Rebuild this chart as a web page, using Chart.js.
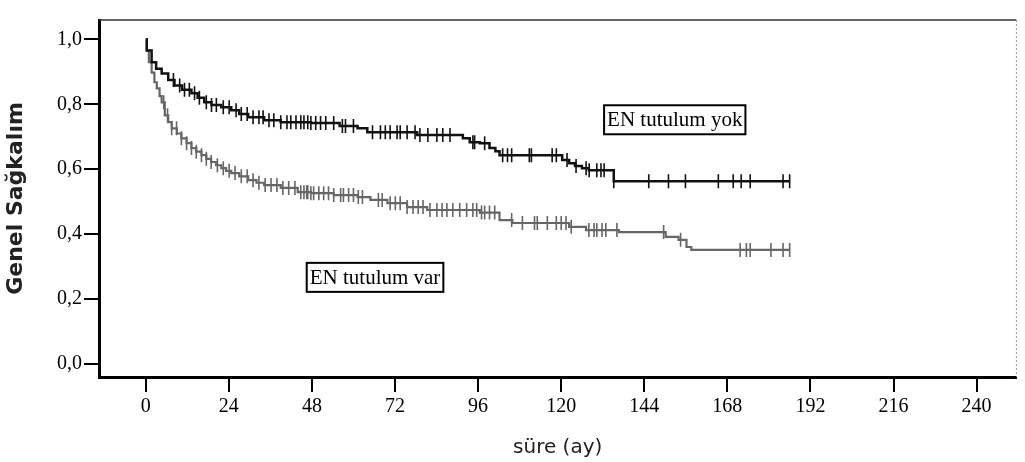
<!DOCTYPE html>
<html>
<head>
<meta charset="utf-8">
<script src="https://cdn.jsdelivr.net/npm/chart.js@4.4.0/dist/chart.umd.min.js"></script>
<style>
html, body { margin: 0; padding: 0; background: #fff; }
#wrap { width: 1025px; height: 462px; position: relative; }
</style>
</head>
<body>
<div id="wrap"><canvas id="kmChart"></canvas></div>
<script>
// Kaplan-Meier, EN tutulum yok (upper curve): step times (ay) and survival after the step
var yokTime = [0, 0.3, 1.7, 3, 4.6, 6.5, 8.3, 10.5, 13.2, 15, 16.9, 19, 21.8, 24.7, 27, 29.6, 34.2, 39, 47.7, 56, 61.2, 64, 78.4, 91.6, 93.6, 96.5, 99.3, 101, 102.2, 120.3, 122.3, 124, 126, 128, 135.2, 186];
var yokSurv = [1.0, 0.966, 0.93, 0.91, 0.895, 0.875, 0.858, 0.845, 0.834, 0.82, 0.806, 0.798, 0.791, 0.782, 0.77, 0.76, 0.751, 0.745, 0.742, 0.733, 0.726, 0.714, 0.705, 0.695, 0.683, 0.68, 0.665, 0.655, 0.643, 0.628, 0.618, 0.61, 0.603, 0.597, 0.563, 0.563];

// EN tutulum var (lower curve)
var varTime = [0, 0.3, 0.9, 1.7, 2.5, 3.2, 4, 4.6, 5.5, 6.5, 7.5, 9, 10.3, 11.8, 13.2, 14.6, 16.1, 17.5, 18.9, 20.3, 21.8, 23.2, 24.7, 27, 29.6, 32, 34.2, 39, 43.9, 47.7, 54.3, 61.2, 64.9, 69.8, 75.5, 81.3, 96.5, 102.2, 105.9, 122.3, 127.2, 136.7, 150.2, 153.9, 156.2, 157.6, 186];
var varSurv = [1.0, 0.966, 0.93, 0.898, 0.868, 0.849, 0.825, 0.806, 0.766, 0.745, 0.726, 0.71, 0.695, 0.68, 0.665, 0.654, 0.643, 0.632, 0.622, 0.612, 0.603, 0.595, 0.588, 0.578, 0.566, 0.558, 0.551, 0.542, 0.529, 0.526, 0.52, 0.514, 0.505, 0.495, 0.483, 0.474, 0.466, 0.443, 0.434, 0.422, 0.412, 0.406, 0.391, 0.382, 0.36, 0.351, 0.351];

// censored observations (ay)
var yokCensor = [8.0, 9.8, 11.2, 12.6, 14.1, 15.5, 17.5, 19.0, 20.4, 22.4, 24.1, 26.1, 27.6, 29.3, 31.0, 32.7, 33.9, 35.6, 37.0, 39.0, 40.8, 41.9, 43.4, 44.8, 45.7, 46.8, 47.7, 49.1, 50.5, 52.0, 54.3, 56.8, 57.7, 60.0, 65.5, 67.8, 69.2, 70.6, 72.6, 73.5, 75.5, 77.8, 79.2, 81.5, 84.1, 85.8, 87.9, 94.5, 95.0, 97.9, 103.1, 104.5, 105.7, 110.8, 111.4, 117.4, 118.6, 121.7, 124.3, 127.2, 128.1, 130.3, 131.5, 132.4, 135.2, 145.3, 151, 155.9, 165.4, 169.7, 172, 174.6, 184.1, 186];
var varCensor = [5.2, 6.3, 7.5, 8.9, 10.3, 11.8, 13.2, 14.6, 16.1, 17.5, 18.9, 20.7, 22.4, 24.1, 25.8, 27.6, 29.3, 31.0, 32.7, 34.5, 36.2, 37.9, 39.6, 41.3, 43.1, 44.8, 45.7, 46.5, 46.8, 47.7, 48.5, 50.0, 51.4, 52.8, 54.3, 56.3, 57.1, 58.6, 60.0, 61.4, 62.6, 67.2, 68.3, 70.6, 72.1, 73.5, 75.5, 77.2, 78.7, 80.1, 82.1, 84.1, 85.6, 87.0, 88.7, 90.7, 92.7, 94.5, 95.6, 97.0, 97.9, 99.3, 100.8, 105.7, 108.8, 112.3, 113.1, 116.0, 118.6, 120.0, 121.4, 122.9, 128.0, 129.5, 130.3, 131.8, 132.9, 136.1, 149.6, 154.5, 171.7, 173.5, 174.6, 180.6, 184.1, 186];

var xTicks = [0, 24, 48, 72, 96, 120, 144, 168, 192, 216, 240];
var yTicks = [0, 0.2, 0.4, 0.6, 0.8, 1.0];

var yokLabel = 'EN tutulum yok';
var varLabel = 'EN tutulum var';

function survAt(times, surv, t) {
    var s = surv[0];
    for (var i = 0; i < times.length; i++) {
        if (times[i] <= t) s = surv[i];
    }
    return s;
}

function toPoints(times, surv) {
    return times.map(function (t, i) { return {x: t, y: surv[i]}; });
}

function censorPoints(list, times, surv) {
    return list.map(function (t) { return {x: t, y: survAt(times, surv, t)}; });
}

// frame lines and the two boxed labels
var framePlugin = {
    id: 'frame',
    afterDatasetsDraw: function (chart) {
        var ctx = chart.ctx;
        var a = chart.chartArea;
        var xs = chart.scales.x, ys = chart.scales.y;
        ctx.save();
        ctx.strokeStyle = '#333';
        ctx.lineWidth = 1.5;
        ctx.beginPath();
        ctx.moveTo(a.left, a.top);
        ctx.lineTo(a.right, a.top);
        ctx.stroke();
        ctx.strokeStyle = '#999';
        ctx.lineWidth = 1;
        ctx.setLineDash([2, 2]);
        ctx.beginPath();
        ctx.moveTo(a.right, a.top);
        ctx.lineTo(a.right, a.bottom);
        ctx.stroke();
        ctx.setLineDash([]);

        var boxes = [
            {text: yokLabel, x: 132.4, y: 0.797},
            {text: varLabel, x: 46.5, y: 0.311}
        ];
        ctx.font = '21px "Liberation Serif"';
        ctx.textBaseline = 'middle';
        ctx.strokeStyle = '#000';
        ctx.lineWidth = 2;
        boxes.forEach(function (b) {
            var px = xs.getPixelForValue(b.x);
            var py = ys.getPixelForValue(b.y);
            var w = ctx.measureText(b.text).width + 6;
            var h = 29;
            ctx.fillStyle = '#fff';
            ctx.fillRect(px, py, w, h);
            ctx.strokeRect(px, py, w, h);
            ctx.fillStyle = '#000';
            ctx.fillText(b.text, px + 3, py + h / 2 + 1);
        });
        ctx.restore();
    }
};

var ctx = document.getElementById('kmChart').getContext('2d');
var myChart = new Chart(ctx, {
    type: 'scatter',
    data: {
        datasets: [{
                label: yokLabel,
                data: toPoints(yokTime, yokSurv),
                showLine: true,
                stepped: true,
                borderColor: '#111',
                borderWidth: 2.5,
                pointRadius: 0
            }, {
                label: varLabel,
                data: toPoints(varTime, varSurv),
                showLine: true,
                stepped: true,
                borderColor: '#666',
                borderWidth: 2.2,
                pointRadius: 0
            }, {
                label: yokLabel + ' censor',
                data: censorPoints(yokCensor, yokTime, yokSurv),
                showLine: false,
                pointStyle: 'line',
                rotation: 90,
                pointRadius: 7,
                borderColor: '#111',
                borderWidth: 1.6
            }, {
                label: varLabel + ' censor',
                data: censorPoints(varCensor, varTime, varSurv),
                showLine: false,
                pointStyle: 'line',
                rotation: 90,
                pointRadius: 7,
                borderColor: '#666',
                borderWidth: 1.6
            }]
    },
    plugins: [framePlugin],
    options: {
        responsive: true,
        maintainAspectRatio: false,
        animation: false,
        layout: {padding: {top: 20, right: 3, left: 0, bottom: 0}},
        plugins: {
            legend: {display: false},
            tooltip: {enabled: false}
        },
        scales: {
            x: {
                type: 'linear',
                min: -13.5,
                max: 251.5,
                afterBuildTicks: function (s) {
                    s.ticks = xTicks.map(function (v) { return {value: v}; });
                },
                afterFit: function (s) { s.height = 85; },
                ticks: {
                    font: {family: 'Liberation Serif', size: 20},
                    color: '#000',
                    padding: 3,
                    maxRotation: 0,
                    callback: function (v) { return String(v); }
                },
                grid: {drawOnChartArea: false, drawTicks: true, tickLength: 15, color: '#000', lineWidth: 2},
                border: {display: true, color: '#000', width: 3},
                title: {
                    display: true,
                    text: 'süre (ay)',
                    font: {family: 'DejaVu Sans', size: 20},
                    color: '#222',
                    padding: {top: 4, bottom: 2}
                }
            },
            y: {
                type: 'linear',
                min: -0.041,
                max: 1.06,
                afterBuildTicks: function (s) {
                    s.ticks = yTicks.map(function (v) { return {value: v}; });
                },
                afterFit: function (s) { s.width = 99; },
                ticks: {
                    font: {family: 'Liberation Serif', size: 20},
                    color: '#000',
                    padding: 2,
                    callback: function (v) { return v.toFixed(1).replace('.', ','); }
                },
                grid: {drawOnChartArea: false, drawTicks: true, tickLength: 15, color: '#000', lineWidth: 2},
                border: {display: true, color: '#000', width: 3},
                title: {
                    display: true,
                    text: 'Genel Sağkalım',
                    font: {family: 'DejaVu Sans', size: 22, weight: 'bold'},
                    color: '#222',
                    padding: {top: 3, bottom: 4}
                }
            }
        }
    }
});
</script>
</body>
</html>
